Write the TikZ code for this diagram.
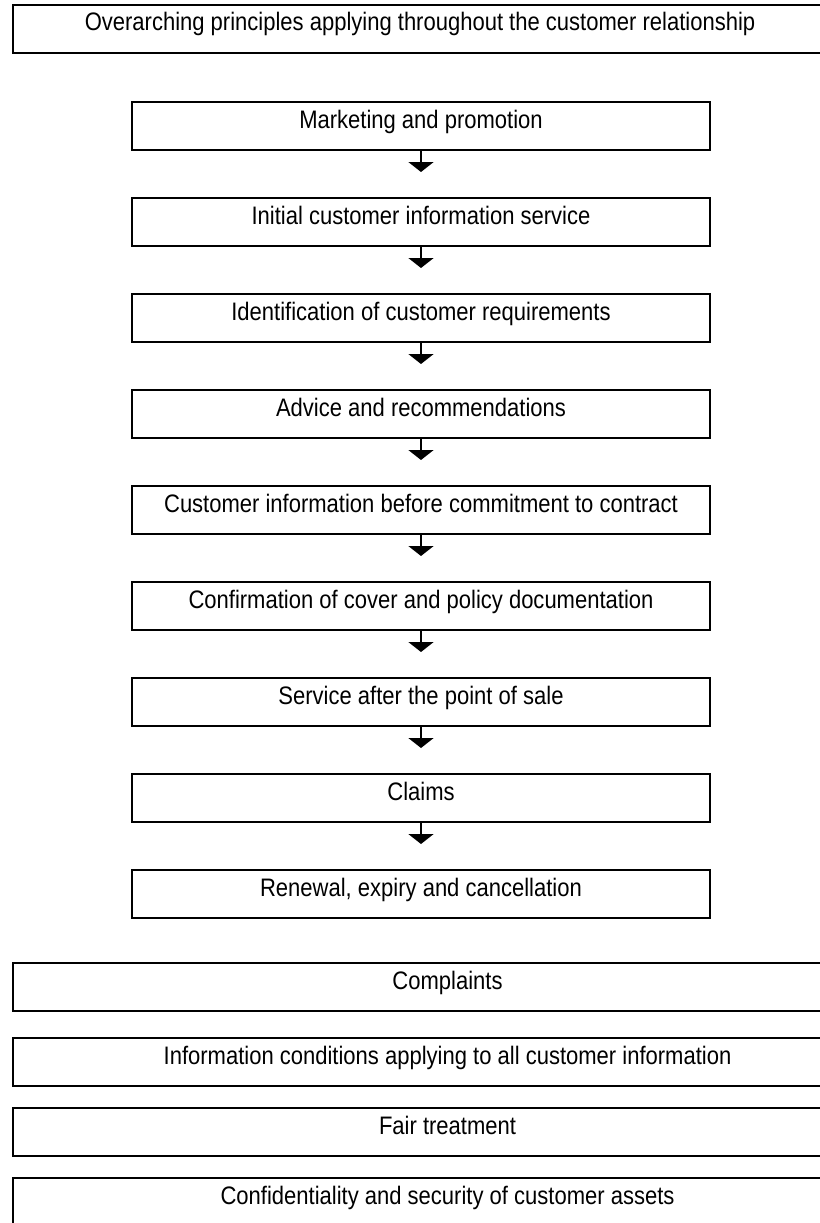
\documentclass[tikz,border=0pt]{standalone}
\usepackage{fontspec}
\setmainfont{Liberation Sans}
\newfontfamily\boxfont[FakeStretch=0.87]{Liberation Sans}
\usetikzlibrary{arrows.meta}
\begin{document}
\begin{tikzpicture}[x=1pt,y=1pt,
  box/.style={draw=black, line width=2pt, inner sep=0pt, minimum height=48pt,
    text height=16pt, text depth=12pt, font=\boxfont\fontsize{25.3}{28}\selectfont},
  flowbox/.style={box, minimum width=578pt},
  widebox/.style={box, minimum width=869pt},
  flowarrow/.style={line width=2pt, -{Triangle[width=25pt,length=10pt]}, shorten >=25pt}]
\useasboundingbox (0,0) rectangle (819,-1223);
\node[box, minimum width=814pt] (top) at (420,-29) {Overarching principles applying throughout the customer relationship};
\node[flowbox] (f0) at (421,-126) {Marketing and promotion};
\node[flowbox] (f1) at (421,-222) {Initial customer information service};
\node[flowbox] (f2) at (421,-318) {Identification of customer requirements};
\node[flowbox] (f3) at (421,-414) {Advice and recommendations};
\node[flowbox] (f4) at (421,-510) {Customer information before commitment to contract};
\node[flowbox] (f5) at (421,-606) {Confirmation of cover and policy documentation};
\node[flowbox] (f6) at (421,-702) {Service after the point of sale};
\node[flowbox] (f7) at (421,-798) {Claims};
\node[flowbox] (f8) at (421,-894) {Renewal, expiry and cancellation};
\foreach \a/\b in {f0/f1,f1/f2,f2/f3,f3/f4,f4/f5,f5/f6,f6/f7,f7/f8}
  \draw[flowarrow] (\a.south) -- (\b.north);
\node[widebox] (b0) at (447.5,-987) {Complaints};
\node[widebox] (b1) at (447.5,-1062) {Information conditions applying to all customer information};
\node[widebox] (b2) at (447.5,-1132) {Fair treatment};
\node[widebox] (b3) at (447.5,-1202) {Confidentiality and security of customer assets};
\end{tikzpicture}
\end{document}
